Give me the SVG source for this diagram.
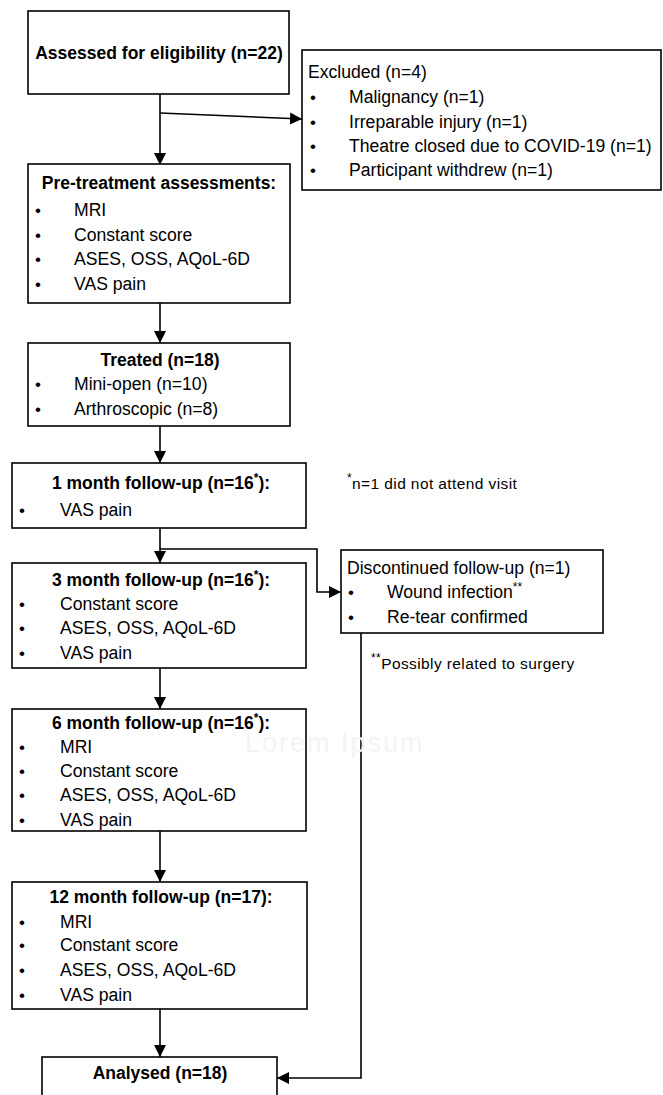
<svg xmlns="http://www.w3.org/2000/svg" width="663" height="1095" viewBox="0 0 663 1095">
<style>
.box{fill:#fff;stroke:#000;stroke-width:1.6}
.t{font-family:"Liberation Sans",Arial,sans-serif;font-size:17.6px;fill:#000}
.b{font-family:"Liberation Sans",Arial,sans-serif;font-size:17.5px;font-weight:bold;fill:#000;text-anchor:middle}
.bu{font-family:"Liberation Sans",Arial,sans-serif;font-size:17px;fill:#000}
.n{font-family:"Liberation Sans",Arial,sans-serif;font-size:15.5px;letter-spacing:0.4px;fill:#000}
.sup{font-size:12px;baseline-shift:super}
.c{fill:none;stroke:#000;stroke-width:1.6}
.wm{font-family:"Liberation Sans",Arial,sans-serif;font-size:27px;letter-spacing:2px;fill:#f4f4f4}
</style>
<defs>
<marker id="ah" viewBox="0 0 12 12" refX="12" refY="6" markerWidth="12" markerHeight="12" markerUnits="userSpaceOnUse" orient="auto">
<path d="M0,0 L12,6 L0,12 Z" fill="#000"/>
</marker>
</defs>
<g id="connectors">
<path class="c" d="M160,94 V165" marker-end="url(#ah)"/>
<path class="c" d="M160,113 L302,119" marker-end="url(#ah)"/>
<path class="c" d="M160,303 V343" marker-end="url(#ah)"/>
<path class="c" d="M160,426 V463" marker-end="url(#ah)"/>
<path class="c" d="M160,528 V563" marker-end="url(#ah)"/>
<path class="c" d="M160,549 H317 V592 H341" marker-end="url(#ah)"/>
<path class="c" d="M160,668 V709" marker-end="url(#ah)"/>
<path class="c" d="M160,831 V882" marker-end="url(#ah)"/>
<path class="c" d="M160,1009 V1057" marker-end="url(#ah)"/>
<path class="c" d="M361,633 V1078 H277" marker-end="url(#ah)"/>
</g>
<g id="assessed">
<rect class="box" x="28" y="11" width="261" height="83"/>
<text class="b" x="159" y="59">Assessed for eligibility (n=22)</text>
</g>
<g id="excluded">
<rect class="box" x="302" y="50" width="359" height="140"/>
<text class="t" x="308" y="78">Excluded (n=4)</text>
<text class="bu" x="310" y="103">•</text><text class="t" x="349" y="103">Malignancy (n=1)</text>
<text class="bu" x="310" y="128">•</text><text class="t" x="349" y="128">Irreparable injury (n=1)</text>
<text class="bu" x="310" y="152">•</text><text class="t" x="349" y="152">Theatre closed due to COVID-19 (n=1)</text>
<text class="bu" x="310" y="176">•</text><text class="t" x="349" y="176">Participant withdrew (n=1)</text>
</g>
<g id="pretreatment">
<rect class="box" x="28" y="164" width="262" height="139"/>
<text class="b" x="159" y="189">Pre-treatment assessments:</text>
<text class="bu" x="35" y="216">•</text><text class="t" x="74" y="216">MRI</text>
<text class="bu" x="35" y="241">•</text><text class="t" x="74" y="241">Constant score</text>
<text class="bu" x="35" y="265">•</text><text class="t" x="74" y="265">ASES, OSS, AQoL-6D</text>
<text class="bu" x="35" y="290">•</text><text class="t" x="74" y="290">VAS pain</text>
</g>
<g id="treated">
<rect class="box" x="28" y="343" width="262" height="83"/>
<text class="b" x="160" y="366">Treated (n=18)</text>
<text class="bu" x="35" y="390">•</text><text class="t" x="74" y="390">Mini-open (n=10)</text>
<text class="bu" x="35" y="415">•</text><text class="t" x="74" y="415">Arthroscopic (n=8)</text>
</g>
<g id="month1">
<rect class="box" x="12" y="463" width="294" height="65"/>
<text class="b" x="161" y="489">1 month follow-up (n=16<tspan class="sup">*</tspan>):</text>
<text class="bu" x="19" y="516">•</text><text class="t" x="60" y="516">VAS pain</text>
</g>
<g id="note1">
<text class="n" x="347" y="489"><tspan class="sup">*</tspan>n=1 did not attend visit</text>
</g>
<g id="discontinued">
<rect class="box" x="341" y="550" width="262" height="83"/>
<text class="t" x="347" y="574">Discontinued follow-up (n=1)</text>
<text class="bu" x="348" y="598">•</text><text class="t" x="387" y="598">Wound infection<tspan class="sup">**</tspan></text>
<text class="bu" x="348" y="623">•</text><text class="t" x="387" y="623">Re-tear confirmed</text>
</g>
<g id="note2">
<text class="n" x="371" y="669"><tspan class="sup">**</tspan>Possibly related to surgery</text>
</g>
<g id="month3">
<rect class="box" x="12" y="563" width="294" height="105"/>
<text class="b" x="161" y="586">3 month follow-up (n=16<tspan class="sup">*</tspan>):</text>
<text class="bu" x="19" y="610">•</text><text class="t" x="60" y="610">Constant score</text>
<text class="bu" x="19" y="634">•</text><text class="t" x="60" y="634">ASES, OSS, AQoL-6D</text>
<text class="bu" x="19" y="659">•</text><text class="t" x="60" y="659">VAS pain</text>
</g>
<g id="month6">
<rect class="box" x="12" y="709" width="294" height="122"/>
<text class="b" x="161" y="729">6 month follow-up (n=16<tspan class="sup">*</tspan>):</text>
<text class="bu" x="19" y="753">•</text><text class="t" x="60" y="753">MRI</text>
<text class="bu" x="19" y="777">•</text><text class="t" x="60" y="777">Constant score</text>
<text class="bu" x="19" y="801">•</text><text class="t" x="60" y="801">ASES, OSS, AQoL-6D</text>
<text class="bu" x="19" y="826">•</text><text class="t" x="60" y="826">VAS pain</text>
</g>
<g id="month12">
<rect class="box" x="12" y="882" width="295" height="127"/>
<text class="b" x="161" y="903">12 month follow-up (n=17):</text>
<text class="bu" x="19" y="928">•</text><text class="t" x="60" y="928">MRI</text>
<text class="bu" x="19" y="951">•</text><text class="t" x="60" y="951">Constant score</text>
<text class="bu" x="19" y="976">•</text><text class="t" x="60" y="976">ASES, OSS, AQoL-6D</text>
<text class="bu" x="19" y="1001">•</text><text class="t" x="60" y="1001">VAS pain</text>
</g>
<g id="analysed">
<rect class="box" x="42" y="1057" width="235" height="60"/>
<text class="b" x="160" y="1079">Analysed (n=18)</text>
</g>
<text class="wm" x="245" y="752">Lorem Ipsum</text>
</svg>
